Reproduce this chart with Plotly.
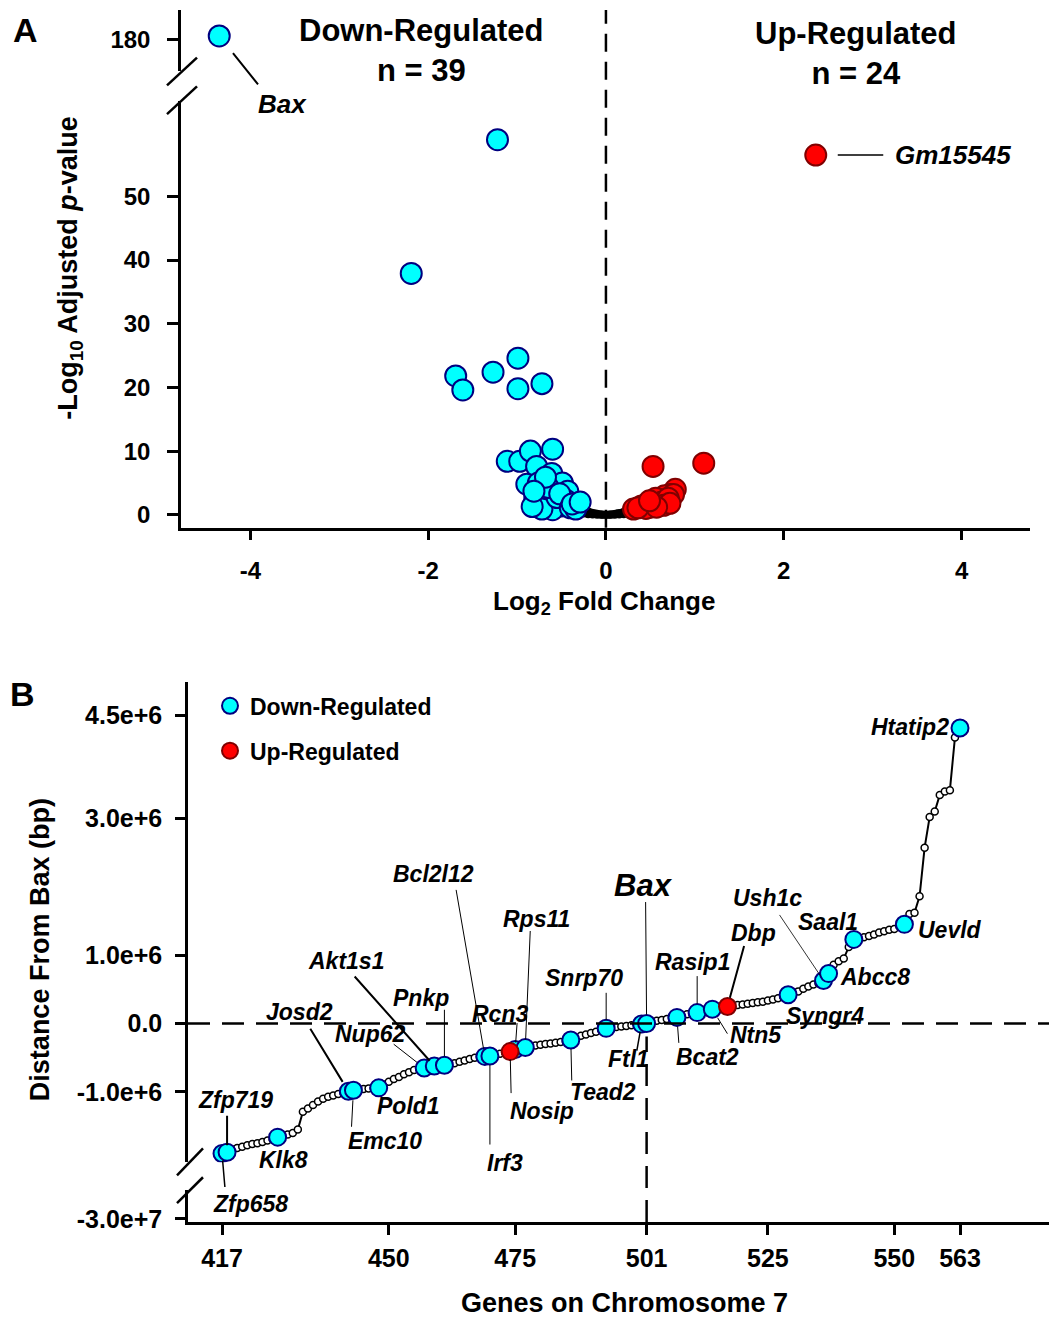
import plotly.graph_objects as go

W, H = 1057, 1330
OFF = 8  # the page body margin shifts the figure by this many pixels
FONT = "Liberation Sans, Arial, Helvetica, sans-serif"

# ---------------- Panel A data (volcano) ----------------
down_lfc = [-1.22, -2.19, -1.69, -1.61, -1.27, -0.99, -0.99, -0.72, -1.11, -0.97,
            -0.85, -0.60, -0.78, -0.89, -0.61, -0.76, -0.49, -0.43, -0.66, -0.74,
            -0.55, -0.63, -0.80, -0.70, -0.50, -0.45, -0.60, -0.72, -0.83, -0.55,
            -0.65, -0.52, -0.40, -0.34, -0.68, -0.81, -0.38, -0.29]
down_p = [58.9, 37.9, 21.8, 19.6, 22.4, 24.6, 19.8, 20.6, 8.4, 8.4,
          10.0, 10.3, 7.6, 4.8, 6.5, 5.0, 5.0, 3.7, 3.0, 1.9,
          1.9, 1.1, 2.6, 1.4, 1.4, 2.3, 0.8, 0.9, 1.3, 2.7,
          4.3, 3.3, 1.1, 0.9, 5.9, 3.7, 1.7, 2.0]
bax_lfc = [-4.35]
bax_p = [180.6]

up_lfc = [2.36, 0.53, 1.10, 0.78, 0.72, 0.66, 0.61, 0.53, 0.46, 0.40,
          0.31, 0.68, 0.59, 0.76, 0.50, 0.56, 0.63, 0.70, 0.45, 0.36,
          0.65, 0.72, 0.57, 0.49]
up_p = [56.5, 7.6, 8.1, 4.0, 3.2, 3.0, 2.4, 1.9, 1.7, 1.4,
        0.9, 2.2, 1.7, 3.2, 1.2, 2.6, 2.0, 2.6, 1.0, 1.1,
        1.5, 1.8, 1.2, 2.2]

ns_lfc = [-0.30, -0.28, -0.26, -0.24, -0.22, -0.20, -0.18, -0.16, -0.14, -0.12,
          -0.10, -0.08, -0.06, -0.04, -0.02, 0.00, 0.02, 0.04, 0.06, 0.08,
          0.10, 0.12, 0.14, 0.16, 0.18, 0.20, 0.22, 0.24, 0.26, 0.28,
          0.30, -0.25, -0.20, -0.15, -0.10, -0.05, 0.05, 0.10, 0.15, 0.20, 0.25]
ns_p = [1.2, 1.0, 0.85, 0.7, 0.6, 0.5, 0.4, 0.32, 0.25, 0.2,
        0.15, 0.1, 0.06, 0.03, 0.01, 0.0, 0.01, 0.03, 0.06, 0.1,
        0.14, 0.2, 0.25, 0.3, 0.38, 0.45, 0.55, 0.65, 0.75, 0.85,
        1.0, 0.2, 0.1, 0.05, 0.02, 0.0, 0.0, 0.02, 0.05, 0.1, 0.2]

a_xticks = [-4, -2, 0, 2, 4]
a_xticktext = ["-4", "-2", "0", "2", "4"]
a_yticks = [0, 10, 20, 30, 40, 50]
a_ytop_ticks = [180]

# ---------------- Panel B data (chromosome 7) ----------------
genes = list(range(417, 564))
dist_mb = [
    -1.90, -1.88, -1.84, -1.82, -1.80, -1.78, -1.76, -1.75, -1.73, -1.71,   # 417-426
    -1.69, -1.66, -1.63, -1.62, -1.60, -1.55, -1.29, -1.24, -1.19, -1.14,   # 427-436
    -1.10, -1.07, -1.05, -1.03, -1.01, -0.99, -0.975, -0.965, -0.955, -0.95,  # 437-446
    -0.945, -0.94, -0.89, -0.85, -0.81, -0.78, -0.74, -0.71, -0.68, -0.66,  # 447-456
    -0.65, -0.63, -0.62, -0.615, -0.61, -0.595, -0.58, -0.56, -0.54, -0.52,  # 457-466
    -0.50, -0.49, -0.48, -0.475, -0.455, -0.44, -0.425, -0.41, -0.38, -0.37,  # 467-476
    -0.35, -0.33, -0.32, -0.31, -0.30, -0.29, -0.28, -0.27, -0.26, -0.24,   # 477-486
    -0.21, -0.18, -0.16, -0.14, -0.12, -0.095, -0.07, -0.06, -0.05, -0.045,  # 487-496
    -0.035, -0.025, -0.015, -0.008, 0.0, 0.03, 0.04, 0.05, 0.065, 0.077,    # 497-506
    0.09, 0.115, 0.135, 0.145, 0.16, 0.175, 0.19, 0.21, 0.225, 0.24,        # 507-516
    0.25, 0.26, 0.27, 0.28, 0.29, 0.30, 0.31, 0.32, 0.335, 0.35,            # 517-526
    0.37, 0.39, 0.42, 0.45, 0.47, 0.51, 0.54, 0.57, 0.59, 0.63,             # 527-536
    0.73, 0.86, 0.91, 0.95, 1.12, 1.23, 1.25, 1.26, 1.28, 1.30,             # 537-546
    1.33, 1.35, 1.37, 1.38, 1.42, 1.45, 1.60, 1.62, 1.86, 2.57,             # 547-556
    3.02, 3.10, 3.34, 3.39, 3.41, 4.18, 4.32,                                # 557-563
]
down_genes = ["Zfp658", "Zfp719", "Klk8", "Josd2", "Emc10", "Pold1", "Nup62", "Akt1s1",
              "Pnkp", "Bcl2l12", "Irf3", "Rcn3", "Rps11", "Tead2", "Snrp70", "Ftl1",
              "Bax", "Bcat2", "Rasip1", "Ntn5", "Syngr4", "Ush1c", "Abcc8", "Saal1",
              "Uevld", "Htatip2"]
down_pos = [417, 418, 428, 442, 443, 448, 457, 459, 461, 469, 470, 475, 477, 486,
            493, 500, 501, 507, 511, 514, 529, 536, 537, 542, 552, 563]
up_genes = ["Nosip", "Dbp"]
up_pos = [474, 517]

b_xticks = [417, 450, 475, 501, 525, 550, 563]
b_yticks = [-1.0e6, 0.0, 1.0e6, 3.0e6, 4.5e6]
b_yticktext = ["-1.0e+6", "0.0", "1.0e+6", "3.0e+6", "4.5e+6"]
b_ylow_ticks = [-3.0e7]
b_ylow_text = ["-3.0e+7"]

# ---------------- helpers ----------------
def px(x):
    return (x - OFF) / W

def py(y):
    return 1 - (y - OFF) / H

dist_bp = [v * 1e6 for v in dist_mb]
lookup = dict(zip(genes, dist_bp))

CYAN, NAVY = "#00FFFF", "#000080"
RED, DRED = "#FF0000", "#800000"

fig = go.Figure()

# Panel A traces
fig.add_trace(go.Scatter(x=ns_lfc, y=ns_p, mode="markers", xaxis="x", yaxis="y",
                         marker=dict(size=8, color="black", line=dict(width=0)),
                         showlegend=False, hoverinfo="skip"))
fig.add_trace(go.Scatter(x=up_lfc, y=up_p, mode="markers", xaxis="x", yaxis="y",
                         marker=dict(size=21, color=RED, line=dict(color=DRED, width=2)),
                         showlegend=False))
fig.add_trace(go.Scatter(x=down_lfc, y=down_p, mode="markers", xaxis="x", yaxis="y",
                         marker=dict(size=21, color=CYAN, line=dict(color=NAVY, width=2)),
                         showlegend=False))
fig.add_trace(go.Scatter(x=bax_lfc, y=bax_p, mode="markers", xaxis="x", yaxis="y2",
                         marker=dict(size=21, color=CYAN, line=dict(color=NAVY, width=2)),
                         showlegend=False))

# Panel B traces
fig.add_trace(go.Scatter(x=genes, y=dist_bp, mode="lines+markers", xaxis="x3", yaxis="y3",
                         line=dict(color="black", width=2),
                         marker=dict(size=7, color="white", line=dict(color="black", width=1.5)),
                         showlegend=False))
fig.add_trace(go.Scatter(x=down_pos, y=[lookup[g] for g in down_pos], mode="markers",
                         xaxis="x3", yaxis="y3", name="Down-Regulated", legendgroup="d",
                         marker=dict(size=17, color=CYAN, line=dict(color=NAVY, width=2))))
fig.add_trace(go.Scatter(x=up_pos, y=[lookup[g] for g in up_pos], mode="markers",
                         xaxis="x3", yaxis="y3", name="Up-Regulated", legendgroup="u",
                         marker=dict(size=17, color=RED, line=dict(color=DRED, width=2))))
# registers the lower (broken) axis segment of panel B; draws nothing
fig.add_trace(go.Scatter(x=[None], y=[None], mode="markers", xaxis="x3", yaxis="y4",
                         showlegend=False, hoverinfo="skip"))

tickfont_a = dict(family=FONT, size=24, color="black", weight="bold")
tickfont_b = dict(family=FONT, size=25, color="black", weight="bold")
axis_common = dict(showline=True, linecolor="black", linewidth=2.5, ticks="outside",
                   tickwidth=2.5, tickcolor="black", showgrid=False, zeroline=False)

fig.update_layout(
    width=W, height=H, margin=dict(l=0, r=0, t=0, b=0),
    paper_bgcolor="white", plot_bgcolor="white",
    font=dict(family=FONT, color="black"),
    xaxis=dict(domain=[px(181), px(1030)], range=[-4.78, 4.77], anchor="y",
               tickvals=a_xticks, ticktext=a_xticktext, tickfont=tickfont_a,
               ticklen=10, ticklabelstandoff=10, **axis_common),
    yaxis=dict(domain=[py(532), py(102)], range=[-2.02, 64.95], anchor="x",
               tickvals=a_yticks, tickfont=tickfont_a, ticklen=11,
               ticklabelstandoff=12, **axis_common),
    yaxis2=dict(domain=[py(72), py(10)], range=[175.0, 184.7], anchor="x",
                tickvals=a_ytop_ticks, tickfont=tickfont_a, ticklen=11,
                ticklabelstandoff=12, **axis_common),
    xaxis3=dict(domain=[px(188), px(1057)], range=[410.27, 582.19], anchor="y4",
                tickvals=b_xticks, tickfont=tickfont_b, ticklen=10,
                ticklabelstandoff=2, **axis_common),
    yaxis3=dict(domain=[py(1172), py(688)], range=[-2.029e6, 4.986e6], anchor="x3",
                tickvals=b_yticks, ticktext=b_yticktext, tickfont=tickfont_b, ticklen=10,
                ticklabelstandoff=8, **axis_common),
    yaxis4=dict(domain=[py(1232), py(1200)], range=[-3.01e7, -2.9e7], anchor="x3",
                tickvals=b_ylow_ticks, ticktext=b_ylow_text, tickfont=tickfont_b, ticklen=10,
                ticklabelstandoff=8, **axis_common),
    legend=dict(x=px(210), y=py(690), xanchor="left", yanchor="top",
                font=dict(family=FONT, size=23, color="black", weight="bold"),
                bgcolor="rgba(0,0,0,0)", itemsizing="trace", traceorder="grouped",
                tracegroupgap=12),
)

shapes = []
# Panel A: dashed vertical at 0
shapes.append(dict(type="line", xref="x", yref="paper", x0=0, x1=0, y0=py(532), y1=py(10),
                   line=dict(color="black", width=2.5, dash="18px,10px")))
# Panel A axis break marks
for (x0, y0, x1, y1) in [(167, 86, 197, 58), (167, 115, 197, 87)]:
    shapes.append(dict(type="line", xref="paper", yref="paper", x0=px(x0), y0=py(y0),
                       x1=px(x1), y1=py(y1), line=dict(color="black", width=2.5)))
# Panel B: dashed horizontal at 0 and vertical at Bax
shapes.append(dict(type="line", xref="paper", yref="y3", x0=px(188), x1=px(1057), y0=0, y1=0,
                   line=dict(color="black", width=2.5, dash="22px,12px")))
shapes.append(dict(type="line", xref="x3", yref="paper", x0=501, x1=501, y0=py(1232), y1=py(1045),
                   line=dict(color="black", width=2.5, dash="22px,12px")))
for (x0, y0, x1, y1) in [(177, 1185, 203, 1158), (177, 1213, 203, 1187)]:
    shapes.append(dict(type="line", xref="paper", yref="paper", x0=px(x0), y0=py(y0),
                       x1=px(x1), y1=py(y1), line=dict(color="black", width=2.5)))
fig.update_layout(shapes=shapes)

ann = []

def paper_text(text, x, y, size, angle=0):
    ann.append(dict(text=text, xref="paper", yref="paper", x=px(x), y=py(y),
                    showarrow=False, textangle=angle, xanchor="center", yanchor="middle",
                    font=dict(family=FONT, size=size, color="black")))

paper_text("<b>A</b>", 25, 30, 34)
paper_text("<b>B</b>", 22, 700, 34)
paper_text("<b>Down-Regulated<br>n = 39</b>", 421, 51, 31)
paper_text("<b>Up-Regulated<br>n = 24</b>", 856, 54, 31)
paper_text("<b>Log<sub>2</sub> Fold Change</b>", 604, 607, 26)
paper_text("<b>-Log<sub>10</sub> Adjusted <i>p</i>-value</b>", 70, 270, 27, -90)
paper_text("<b>Distance From Bax (bp)</b>", 40, 958, 27, -90)
paper_text("<b>Genes on Chromosome 7</b>", 624, 1314, 27)


def label(x, y, xref, yref, name, t, l=None, w=1, s=8, size=23):
    ann.append(dict(text=f"<b><i>{name}</i></b>", x=x, y=y, xref=xref, yref=yref,
                    showarrow=False, xshift=t[0], yshift=-t[1],
                    xanchor="center", yanchor="middle",
                    font=dict(family=FONT, size=size, color="black")))
    if l is not None:
        ann.append(dict(text="", x=x, y=y, xref=xref, yref=yref, showarrow=True,
                        ax=l[0], ay=l[1], axref="pixel", ayref="pixel",
                        arrowhead=0, arrowwidth=w, arrowcolor="black", standoff=s))


# Panel A labels
label(bax_lfc[0], bax_p[0], "x", "y2", "Bax", t=(63, 68), l=(40, 50), w=2, s=22, size=26)
label(up_lfc[0], up_p[0], "x", "y", "Gm15545", t=(137, 0), l=(69, 0), w=1.5, s=22, size=26)

# Panel B labels: text offset t, leader-line tail offset l (pixels from the point)
b_label_style = {
    "Zfp658": dict(t=(28, 50), l=(3, 35), w=1.5, s=7),
    "Zfp719": dict(t=(8, -52), l=(0, -38), w=2, s=7),
    "Klk8": dict(t=(6, 23)),
    "Josd2": dict(t=(-49, -79), l=(-39, -64), w=2, s=11),
    "Emc10": dict(t=(32, 51), l=(-2, 38), w=1, s=10),
    "Pold1": dict(t=(30, 18)),
    "Nup62": dict(t=(-54, -34), l=(-32, -25), w=1, s=9),
    "Akt1s1": dict(t=(-88, -105), l=(-81, -91), w=2, s=7),
    "Pnkp": dict(t=(-23, -67), l=(0, -57), w=1, s=9),
    "Bcl2l12": dict(t=(-51, -182), l=(-29, -168), w=1, s=8),
    "Irf3": dict(t=(15, 107), l=(0, 90), w=1, s=9),
    "Nosip": dict(t=(32, 59), l=(1, 43), w=1, s=8),
    "Rcn3": dict(t=(-15, -36), l=(2, -28), w=1, s=7),
    "Rps11": dict(t=(11, -128), l=(5, -118), w=1, s=8),
    "Tead2": dict(t=(32, 52), l=(1, 42), w=1, s=9),
    "Snrp70": dict(t=(-22, -50), l=(0, -37), w=1, s=8),
    "Ftl1": dict(t=(-13, 35), l=(-5, 28), w=1.5, s=8),
    "Bax": dict(t=(-3, -138), l=(-1, -123), w=1, s=9, size=31),
    "Bcat2": dict(t=(31, 40), l=(2, 27), w=1, s=9),
    "Rasip1": dict(t=(-5, -51), l=(0, -38), w=1, s=9),
    "Ntn5": dict(t=(44, 26), l=(16, 26), w=1, s=10),
    "Dbp": dict(t=(26, -73), l=(17, -62), w=2, s=9),
    "Syngr4": dict(t=(37, 21)),
    "Ush1c": dict(t=(-56, -82), l=(-45, -67), w=0.8, s=5),
    "Abcc8": dict(t=(46, 3)),
    "Saal1": dict(t=(-26, -17)),
    "Uevld": dict(t=(46, 6)),
    "Htatip2": dict(t=(-50, -1)),
}
for name, g in list(zip(down_genes, down_pos)) + list(zip(up_genes, up_pos)):
    st = b_label_style[name]
    label(g, lookup[g], "x3", "y3", name, **st)

fig.update_layout(annotations=ann)
fig.write_html("out.html")
